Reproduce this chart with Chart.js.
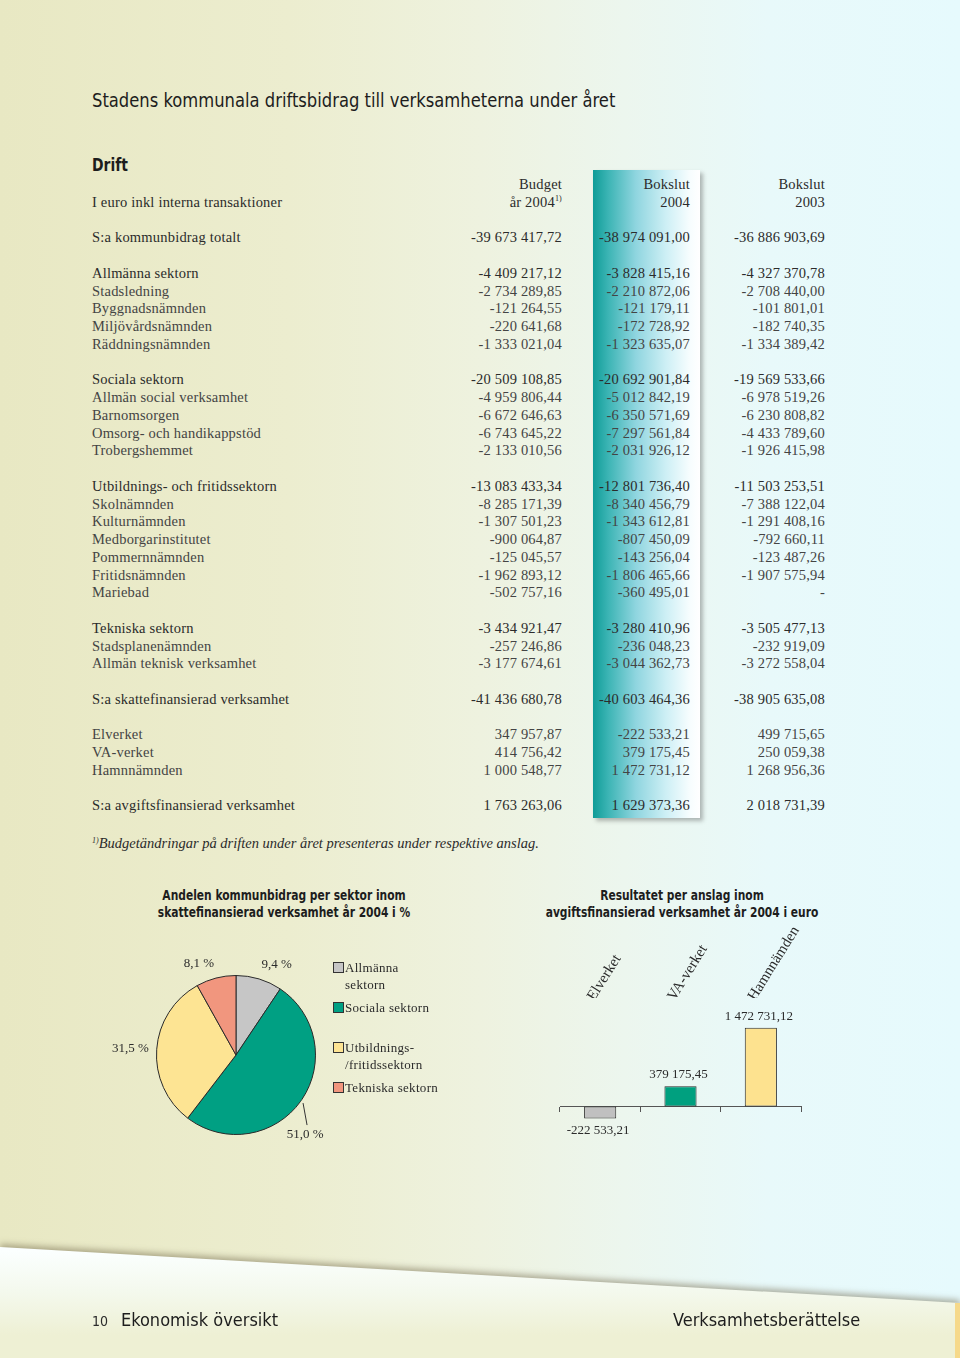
<!DOCTYPE html>
<html lang="sv">
<head>
<meta charset="utf-8">
<title>Stadens kommunala driftsbidrag</title>
<script src="https://cdn.jsdelivr.net/npm/chart.js@4.4.1/dist/chart.umd.min.js"></script>
<style>
  html, body { margin: 0; padding: 0; }
  body {
    width: 960px; height: 1358px; position: relative; overflow: hidden;
    background: linear-gradient(90deg, #e8e8c3 0%, #ecedcf 30%, #eef2df 50%, #ecf6ee 65%, #e8f9fa 80%, #e6fafd 100%);
    font-family: "Liberation Serif", "DejaVu Serif", serif;
    color: #2b2b2b;
  }
  .sans { font-family: "Liberation Sans Narrow", "DejaVu Sans Condensed", "Open Sans", sans-serif; font-stretch: condensed; }
  .abs { position: absolute; }

  #title { left: 92px; top: 88px; font-size: 19px; line-height: 24px; color: #1d1d1d; margin: 0; font-weight: normal;
           transform: scaleX(0.958); transform-origin: left center; white-space: nowrap; }
  #drift { left: 92px; top: 153px; font-size: 18px; line-height: 24px; font-weight: bold; color: #1d1d1d; margin: 0;
           transform: scaleX(0.86); transform-origin: left center; }

  #col-hl {
    left: 593px; top: 170px; width: 107px; height: 648px;
    background: linear-gradient(90deg, #0f9c97 0%, #3bb4b4 14%, #8fd5df 40%, #cdeff5 68%, #f6fdfe 90%, #ffffff 100%);
    box-shadow: 3px 3px 4px rgba(60, 60, 60, 0.35);
  }

  #table { left: 0; top: 176.1px; width: 960px; }
  .line { position: relative; height: 17.75px; line-height: 17.75px; font-size: 14.5px; letter-spacing: 0.2px; white-space: nowrap; }
  .line span { position: absolute; top: 0; }
  .line .lbl { left: 92px; }
  .line .c1 { right: 398px; }
  .line .c2 { right: 270px; }
  .line .c3 { right: 135px; }
  .line.sub { color: #444; }
  .line sup { font-size: 8px; vertical-align: 6px; line-height: 0; }

  #footnote { left: 92px; top: 832px; font-size: 14.5px; font-style: italic; line-height: 18px; white-space: nowrap; }
  #footnote sup { font-size: 8px; vertical-align: 5px; }

  .ctitle { font-size: 13.5px; line-height: 17px; font-weight: bold; text-align: center; color: #1d1d1d;
            white-space: nowrap; transform: scaleX(0.88); transform-origin: center center; }
  #pie-title { left: 84px; width: 400px; top: 887px; }
  #bar-title { left: 482px; width: 400px; top: 887px; }

  #pie-wrap { left: 96px; top: 935px; width: 280px; height: 240px; }
  #bar-wrap { left: 530px; top: 908px; width: 310px; height: 242px; }

  #legend { left: 333px; top: 958.5px; font-size: 13px; line-height: 17px; letter-spacing: 0.3px; }
  .lg-item { position: relative; padding-left: 12px; margin-bottom: 6px; }
  .lg-item:nth-child(2) { margin-bottom: 23px; }
  .lg-box { position: absolute; left: 0; top: 3px; width: 9px; height: 9px; border: 1px solid #333; }

  #band-shadow { left: 0; top: 0; width: 960px; height: 1358px; filter: drop-shadow(0 -3px 3px rgba(110, 100, 70, 0.5)); }
  #band {
    position: absolute; left: 0; top: 0; width: 960px; height: 1358px;
    clip-path: polygon(0 1247px, 960px 1303px, 960px 1358px, 0 1358px);
    background: linear-gradient(180deg, #fbffff 1250px, #f4f9ee 1290px, #eef0d4 1335px);
  }
  #edge { left: 955px; top: 1303px; width: 5px; height: 55px; background: #f6d98a; }
  .foot { top: 1308px; font-size: 18px; line-height: 24px; color: #1d1d1d; }
  #page-no { left: 92px; top: 1311px; font-size: 14px; line-height: 20px; }
</style>
</head>
<body>

<script>
// ========================================
// Data
// ========================================

const rowLabels = [
  'S:a kommunbidrag totalt',
  'Allmänna sektorn', 'Stadsledning', 'Byggnadsnämnden', 'Miljövårdsnämnden', 'Räddningsnämnden',
  'Sociala sektorn', 'Allmän social verksamhet', 'Barnomsorgen', 'Omsorg- och handikappstöd', 'Trobergshemmet',
  'Utbildnings- och fritidssektorn', 'Skolnämnden', 'Kulturnämnden', 'Medborgarinstitutet', 'Pommernnämnden', 'Fritidsnämnden', 'Mariebad',
  'Tekniska sektorn', 'Stadsplanenämnden', 'Allmän teknisk verksamhet',
  'S:a skattefinansierad verksamhet',
  'Elverket', 'VA-verket', 'Hamnnämnden',
  'S:a avgiftsfinansierad verksamhet'
];

const budget2004 = [
  -39673417.72,
  -4409217.12, -2734289.85, -121264.55, -220641.68, -1333021.04,
  -20509108.85, -4959806.44, -6672646.63, -6743645.22, -2133010.56,
  -13083433.34, -8285171.39, -1307501.23, -900064.87, -125045.57, -1962893.12, -502757.16,
  -3434921.47, -257246.86, -3177674.61,
  -41436680.78,
  347957.87, 414756.42, 1000548.77,
  1763263.06
];

const bokslut2004 = [
  -38974091.00,
  -3828415.16, -2210872.06, -121179.11, -172728.92, -1323635.07,
  -20692901.84, -5012842.19, -6350571.69, -7297561.84, -2031926.12,
  -12801736.40, -8340456.79, -1343612.81, -807450.09, -143256.04, -1806465.66, -360495.01,
  -3280410.96, -236048.23, -3044362.73,
  -40603464.36,
  -222533.21, 379175.45, 1472731.12,
  1629373.36
];

const bokslut2003 = [
  -36886903.69,
  -4327370.78, -2708440.00, -101801.01, -182740.35, -1334389.42,
  -19569533.66, -6978519.26, -6230808.82, -4433789.60, -1926415.98,
  -11503253.51, -7388122.04, -1291408.16, -792660.11, -123487.26, -1907575.94, null,
  -3505477.13, -232919.09, -3272558.04,
  -38905635.08,
  499715.65, 250059.38, 1268956.36,
  2018731.39
];

// rows that start a block (a blank line is put before them)
const blockStarts = [1, 6, 11, 18, 21, 22, 25];
// rows that are sums / sector headings
const headRows = [0, 1, 6, 11, 18, 21, 25];

// pie: share of tax-financed contribution 2004, %
const pieLabels = ['Allmänna sektorn', 'Sociala sektorn', 'Utbildnings-/fritidssektorn', 'Tekniska sektorn'];
const pieLegend = [['Allmänna', 'sektorn'], ['Sociala sektorn'], ['Utbildnings-', '/fritidssektorn'], ['Tekniska sektorn']];
const pieShares = [9.4, 51.0, 31.5, 8.1];

// bar: result per fee-financed unit 2004, euro
const barLabels = ['Elverket', 'VA-verket', 'Hamnnämden'];
const resultat2004 = [-222533.21, 379175.45, 1472731.12];
const barMin = -400000;
const barMax = 2030000;

// styles
const pieColors = ['#c6c6c6', '#00a083', '#fde493', '#f1967e'];
const barColors = ['#c0c0c0', '#00a07f', '#fde28f'];
const pieLeader = [false, true, false, false];
const SERIF = '"Liberation Serif", "DejaVu Serif", serif';
</script>

<h1 id="title" class="abs sans">Stadens kommunala driftsbidrag till verksamheterna under året</h1>
<h2 id="drift" class="abs sans">Drift</h2>

<div id="col-hl" class="abs"></div>
<div id="table" class="abs"></div>

<div id="footnote" class="abs"><sup>1)</sup>Budgetändringar på driften under året presenteras under respektive anslag.</div>

<div id="pie-title" class="abs sans ctitle">Andelen kommunbidrag per sektor inom<br>skattefinansierad verksamhet år 2004 i %</div>
<div id="pie-wrap" class="abs"><canvas id="pie-chart"></canvas></div>
<div id="legend" class="abs"></div>

<div id="bar-title" class="abs sans ctitle">Resultatet per anslag inom<br>avgiftsfinansierad verksamhet år 2004 i euro</div>
<div id="bar-wrap" class="abs"><canvas id="bar-chart"></canvas></div>

<div id="band-shadow" class="abs"><div id="band"></div></div>
<div id="edge" class="abs"></div>
<div id="page-no" class="abs sans">10</div>
<div class="abs sans foot" style="left:121px;">Ekonomisk översikt</div>
<div class="abs sans foot" style="left:673px;">Verksamhetsberättelse</div>

<script>
// ========================================
// Helpers
// ========================================

function fmt(v) {
    if (v === null || v === undefined) return '-';
    const [int, dec] = Math.abs(v).toFixed(2).split('.');
    const grouped = int.replace(/\B(?=(\d{3})+(?!\d))/g, ' ');
    return (v < 0 ? '-' : '') + grouped + ',' + dec;
}

function pct(v) {
    return v.toFixed(1).replace('.', ',') + ' %';
}

// ========================================
// Table
// ========================================

let html = `
  <div class="line"><span class="c1">Budget</span><span class="c2">Bokslut</span><span class="c3">Bokslut</span></div>
  <div class="line"><span class="lbl">I euro inkl interna transaktioner</span><span class="c1">år 2004<sup>1)</sup></span><span class="c2">2004</span><span class="c3">2003</span></div>
  <div class="line"></div>`;

rowLabels.forEach((label, i) => {
    if (blockStarts.includes(i)) html += `<div class="line"></div>`;
    const cls = headRows.includes(i) ? 'line' : 'line sub';
    html += `<div class="${cls}"><span class="lbl">${label}</span>` +
        `<span class="c1">${fmt(budget2004[i])}</span>` +
        `<span class="c2">${fmt(bokslut2004[i])}</span>` +
        `<span class="c3">${fmt(bokslut2003[i])}</span></div>`;
});
document.getElementById('table').innerHTML = html;

// legend
document.getElementById('legend').innerHTML = pieLegend.map((lines, i) => `
  <div class="lg-item"><span class="lg-box" style="background:${pieColors[i]}"></span>${lines.join('<br>')}</div>`).join('');

// ========================================
// Pie chart
// ========================================

const pieLabelPlugin = {
    id: 'pieLabels',
    afterDatasetsDraw(chart) {
        const ctx = chart.ctx;
        const meta = chart.getDatasetMeta(0);
        ctx.save();
        ctx.font = `13px ${SERIF}`;
        ctx.fillStyle = '#2b2b2b';
        ctx.strokeStyle = '#333';
        ctx.lineWidth = 1;
        meta.data.forEach((arc, i) => {
            const p = arc.getProps(['x', 'y', 'startAngle', 'endAngle', 'outerRadius'], true);
            const mid = (p.startAngle + p.endAngle) / 2;
            const cos = Math.cos(mid), sin = Math.sin(mid);
            const text = pct(pieShares[i]);
            if (pieLeader[i]) {
                const sx = p.x + cos * (p.outerRadius + 3);
                const sy = p.y + sin * (p.outerRadius + 3);
                const ex = sx + 4, ey = sy + 22;
                ctx.beginPath();
                ctx.moveTo(sx, sy);
                ctx.lineTo(ex, ey);
                ctx.stroke();
                ctx.textAlign = 'center';
                ctx.textBaseline = 'middle';
                ctx.fillText(text, ex - 2, ey + 10);
            } else {
                const ax = p.x + cos * (p.outerRadius + 8);
                const ay = p.y + sin * (p.outerRadius + 8);
                ctx.textAlign = cos > 0.2 ? 'left' : (cos < -0.2 ? 'right' : 'center');
                ctx.textBaseline = sin < -0.3 ? 'bottom' : (sin > 0.3 ? 'top' : 'middle');
                ctx.fillText(text, ax, ay);
            }
        });
        ctx.restore();
    }
};

new Chart(document.getElementById('pie-chart'), {
    type: 'pie',
    data: {
        labels: pieLabels,
        datasets: [{
            data: pieShares,
            backgroundColor: pieColors,
            borderColor: '#2a2a2a',
            borderWidth: 1
        }]
    },
    options: {
        responsive: true,
        maintainAspectRatio: false,
        animation: false,
        layout: { padding: { left: 60, right: 60, top: 40, bottom: 40 } },
        plugins: { legend: { display: false }, tooltip: { enabled: false } }
    },
    plugins: [pieLabelPlugin]
});

// ========================================
// Bar chart
// ========================================

const barValuePlugin = {
    id: 'barValues',
    afterDatasetsDraw(chart) {
        const ctx = chart.ctx;
        const meta = chart.getDatasetMeta(0);
        ctx.save();
        ctx.font = `13px ${SERIF}`;
        ctx.fillStyle = '#2b2b2b';
        ctx.textAlign = 'center';
        meta.data.forEach((bar, i) => {
            const v = resultat2004[i];
            if (v >= 0) {
                ctx.textBaseline = 'bottom';
                ctx.fillText(fmt(v), bar.x - 2, bar.y - 5);
            } else {
                ctx.textBaseline = 'top';
                ctx.fillText(fmt(v), bar.x - 2, bar.y + 6);
            }
        });
        ctx.restore();
    }
};

new Chart(document.getElementById('bar-chart'), {
    type: 'bar',
    data: {
        labels: barLabels,
        datasets: [{
            data: resultat2004,
            backgroundColor: barColors,
            borderColor: '#2a2a2a',
            borderWidth: 1,
            borderSkipped: false,
            categoryPercentage: 1,
            barPercentage: 0.4
        }]
    },
    options: {
        responsive: true,
        maintainAspectRatio: false,
        animation: false,
        layout: { padding: { left: 30, right: 39, top: 0, bottom: 22 } },
        scales: {
            x: {
                position: { y: 0 },
                offset: true,
                grid: { offset: true, drawOnChartArea: false, tickLength: 5, color: '#555' },
                border: { color: '#555' },
                ticks: { display: false }
            },
            x2: {
                type: 'category',
                labels: barLabels,
                position: 'top',
                offset: true,
                grid: { display: false, drawTicks: false },
                border: { display: false },
                ticks: {
                    autoSkip: false, minRotation: 58, maxRotation: 58, padding: -6, labelOffset: 6,
                    color: '#2b2b2b', font: { family: SERIF, size: 15 }
                },
                afterFit: (scale) => { scale.height = 90; }
            },
            y: { display: false, min: barMin, max: barMax }
        },
        plugins: { legend: { display: false }, tooltip: { enabled: false } }
    },
    plugins: [barValuePlugin]
});
</script>
</body>
</html>
